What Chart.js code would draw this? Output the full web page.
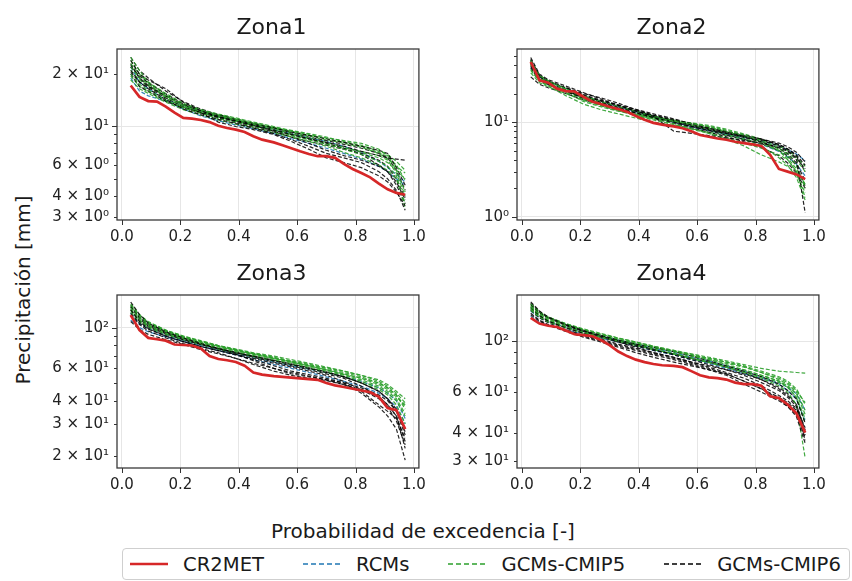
<!DOCTYPE html>
<html>
<head>
<meta charset="utf-8">
<script src="https://cdn.jsdelivr.net/npm/chart.js@4.4.1/dist/chart.umd.min.js"></script>
<style>
  body { margin: 0; background: #fff; width: 852px; height: 581px; overflow: hidden; position: relative;
         font-family: "DejaVu Sans", sans-serif; color: #1a1a1a; }
  canvas { position: absolute; }
  .title { position: absolute; font-size: 22px; line-height: 22px; transform: translateX(-50%); white-space: nowrap; }
  #xlabel { position: absolute; left: 423px; top: 521px; font-size: 20px; line-height: 20px; transform: translateX(-50%); white-space: nowrap; }
  #ylabel { position: absolute; left: 23px; top: 290px; font-size: 20px; line-height: 20px; white-space: nowrap;
            transform: translate(-50%, -50%) rotate(-90deg); }
  #legend { position: absolute; left: 122px; top: 548px; width: 728px; height: 32px; box-sizing: border-box;
            border: 1px solid #cfcfcf; border-radius: 4px; display: flex; align-items: center; padding-left: 7px;
            font-size: 19.6px; white-space: nowrap; overflow: hidden; }
  #legend svg { display: block; flex: none; }
  #legend span { margin-left: 15px; margin-right: 39px; }
</style>
</head>
<body>
<div id="ylabel">Precipitación [mm]</div>
<div id="xlabel">Probabilidad de excedencia [-]</div>
<div id="legend"></div>

<script>
// probabilidad de excedencia
const PROB_OBS = [0.03,0.06,0.09,0.12,0.15,0.18,0.21,0.24,0.27,0.30,0.33,0.36,0.39,0.42,0.45,0.48,
                  0.52,0.55,0.58,0.61,0.64,0.67,0.70,0.73,0.76,0.79,0.82,0.85,0.88,0.91,0.94,0.97];
const PROB_MOD = [0.03,0.06,0.09,0.15,0.21,0.27,0.33,0.39,0.45,0.52,0.58,0.64,0.70,0.76,0.82,0.88,0.91,0.94,0.97];
const X_TICKS = [0, 0.2, 0.4, 0.6, 0.8, 1.0];

// Zona1
const Z1_CR2MET = [17.2,14.8,14.0,13.9,13.0,12.0,11.2,11.1,10.9,10.6,10.1,9.8,9.6,9.3,8.8,8.4,
                   8.1,7.8,7.5,7.2,6.95,6.75,6.75,6.6,6.1,5.7,5.4,5.1,4.7,4.35,4.15,4.05];
const Z1_RCM = [
  [19,16,15,14,12.6,11.5,10.8,10.2,9.7,9.1,8.5,8.0,7.5,7.0,6.5,5.9,5.5,5.0,4.6],
  [22,18,16.5,14.2,13.2,12.2,11.4,10.8,10.3,9.6,9.1,8.6,8.2,7.7,7.1,6.3,5.8,5.3,4.8]
];
const Z1_CMIP5 = [
  [25,21,18,15.5,13.6,12.5,11.8,11.2,10.6,10.0,9.4,9.0,8.6,8.3,8.0,7.4,6.8,5.6,5.0],
  [22,19,17.5,15,13.2,12.2,11.5,10.9,10.3,9.7,9.1,8.6,8.1,7.6,7.1,6.6,6.2,5.6,4.2],
  [20,17.5,16.2,14.2,12.8,11.9,11.1,10.6,10.0,9.5,8.9,8.4,7.9,7.4,6.9,6.3,5.9,5.2,3.6],
  [23,20,18,15.2,13.4,12.4,11.6,11.0,10.4,9.8,9.3,8.8,8.4,8.0,7.6,7.0,6.5,5.9,5.4],
  [18.5,16.5,15.5,13.8,12.5,11.6,10.9,10.3,9.8,9.2,8.7,8.2,7.7,7.1,6.6,6.0,5.6,5.0,3.4],
  [21,18.5,17,14.8,13.1,12.3,11.7,11.1,10.5,9.9,9.4,8.9,8.5,8.1,7.7,7.1,6.7,6.0,4.9],
  [24,20,17.6,14.6,12.9,12.0,11.3,10.8,10.3,9.9,9.5,9.1,8.7,8.2,7.8,7.2,6.9,6.3,5.6],
  [19.5,17,15.8,14.0,12.9,12.1,11.4,10.7,10.1,9.4,8.9,8.4,7.9,7.5,7.2,6.8,6.4,5.4,4.0]
];
const Z1_CMIP6 = [
  [24,20,18.5,16.5,13.8,12.3,11.4,10.7,10.1,9.5,9.0,8.5,8.1,7.7,7.2,6.8,6.6,6.5,6.4],
  [21,18,16.5,14.3,12.6,11.7,11.0,10.4,9.8,9.1,8.4,7.7,7.0,6.6,6.2,5.5,5.0,4.3,3.3],
  [22,19.5,17.8,15.4,13.5,12.0,10.6,10.0,9.6,9.0,8.2,7.4,6.6,6.2,5.8,5.2,4.8,4.2,3.5],
  [20,17,16,14,12.8,12.0,11.3,10.8,10.3,9.8,9.3,8.9,8.5,8.1,7.7,7.3,7.0,5.8,4.6],
  [23,19,17,15,13.3,12.3,11.5,10.9,10.2,9.6,9.0,8.5,8.0,7.5,6.9,6.0,5.5,4.8,3.8],
  [25,21,19,16,13.9,12.6,11.7,11.0,10.4,9.8,9.2,8.7,8.3,7.9,7.5,7.0,6.6,5.6,4.3],
  [20.5,18,16.8,14.6,13.0,12.0,11.2,10.5,9.9,9.3,8.7,8.2,7.8,7.4,7.0,6.4,5.9,5.0,3.9],
  [22.5,19,17.2,15.0,13.4,12.4,11.6,10.9,10.2,9.4,8.7,8.0,7.3,6.8,6.4,5.9,5.5,4.6,3.6]
];
const Z1_YTICKS = [3,4,5,6,7,8,9,10,20];
const Z1_YLABELS = ['3 × 10⁰','4 × 10⁰','','6 × 10⁰','','','','10¹','2 × 10¹'];

// Zona2
const Z2_CR2MET = [43,27.5,26,22.5,21.2,21,18.5,16.5,15.5,14.5,13.7,12.8,11.6,10.6,9.8,9.4,
                   9.0,8.6,8.0,7.3,7.0,6.7,6.5,6.2,6.0,5.8,5.6,4.5,3.2,3.0,2.8,2.5];
const Z2_RCM = [
  [38,28,25,21.5,18,15.8,14.2,13.0,11.5,10.0,9.0,8.2,7.5,6.9,6.3,5.6,5.1,4.6,3.9],
  [42,30,26,22,18.8,16.5,14.5,12.6,11.2,9.9,8.9,8.1,7.4,6.6,5.8,4.9,4.3,3.6,2.7]
];
const Z2_CMIP5 = [
  [45,31,27,22.5,18.5,15.8,13.5,11.8,10.8,10.2,9.6,9.0,8.2,7.3,6.4,5.3,4.5,3.5,2.0],
  [36,27,24,19,15.5,13.5,12.2,11.0,10.0,9.2,8.4,7.6,6.8,6.0,5.3,4.5,4.0,3.0,1.6],
  [40,29,25.5,21,17.5,15.2,13.4,12.0,10.8,9.6,8.6,7.6,6.6,5.6,4.5,3.8,3.4,2.8,1.8],
  [33,26,23.5,20,17,14.8,13.2,12.2,11.4,10.5,9.7,8.9,8.0,7.0,6.1,5.2,4.7,4.0,3.0],
  [42,30,27,22.5,19,16.5,14.6,13.0,11.6,10.3,9.2,8.3,7.5,6.7,5.9,5.0,4.2,3.2,2.2],
  [40,29.5,26,21.5,18,15.5,13.8,12.5,11.3,10.1,9.3,8.6,7.9,7.1,6.2,5.0,4.0,3.0,2.2],
  [35,27,24.5,20.5,16.5,14.5,13.0,12.0,11.2,10.4,9.8,9.2,8.4,7.5,6.6,5.6,5.0,4.3,3.4],
  [43,31,27.5,22,17.5,15.0,13.2,11.7,10.5,9.4,8.5,7.8,7.2,6.5,5.6,4.2,3.5,2.6,1.5]
];
const Z2_CMIP6 = [
  [48,32,28,24,20.5,17.5,15.0,13.0,11.5,8.0,7.6,7.2,6.8,6.4,6.0,5.4,4.9,4.1,1.1],
  [44,30,26.5,23,20,18,15.8,13.5,11.8,10.4,9.3,8.4,7.6,6.9,6.2,5.3,4.6,3.7,2.4],
  [39,28,25,21,18,16,14,12.5,11.2,10.0,9.0,8.2,7.6,7.0,6.4,5.6,5.0,4.2,3.2],
  [46,31,27,23,19.5,17,15.2,13.6,12.2,10.8,9.6,8.6,7.8,7.1,6.5,5.8,5.2,4.5,3.5],
  [30,25,23,20,17.2,15.3,13.8,12.4,11.0,9.7,8.7,7.8,7.0,6.2,5.4,4.4,3.7,2.9,2.0],
  [45,31,27,22.8,19.2,16.6,14.6,13.1,11.8,10.6,9.6,8.8,8.0,7.3,6.6,5.8,5.2,4.4,3.0],
  [41,29,25.5,21.8,18.6,16.2,14.4,12.9,11.6,10.3,9.3,8.5,7.8,7.2,6.6,6.0,5.5,4.8,3.8],
  [37,28,25,21.2,18.4,16.8,15.0,13.2,11.4,10.0,9.0,8.1,7.3,6.6,5.9,5.0,4.4,3.5,2.1]
];
const Z2_YTICKS = [1,2,3,4,5,6,7,8,9,10,20,30,40,50];
const Z2_YLABELS = ['10⁰','','','','','','','','','10¹','','','',''];

// Zona3
const Z3_CR2MET = [117,97,88,86.5,85,81,80.5,80,77,70,67.5,66.5,65,62,57,55.5,
                   54.5,54,53.5,53,52.5,52,50,48.5,47.5,46.5,45.5,44.5,42,36.5,35.5,28];
const Z3_RCM = [
  [120,105,99,91,85,80,76,72,69,65,62,59.5,57,54,51,47,44,40,32],
  [110,100,95,89,84,79,75,71,67,63,60,57,54,51,48,44,41,37,30]
];
const Z3_CMIP5 = [
  [135,118,108,97,90,85,80,76.5,73,70,67,64,61,58,55,51,48,44,39],
  [128,113,104,95,88,83,78.5,75,72,68,65,62,59,56,53,50,47,43,36],
  [125,110,102,93,87,82,77.5,74,70.5,67,64,61,58,55,51,47,44,40,33],
  [132,116,106,96,89,84,79.5,75.5,72,68.5,65.5,63,60.5,58,55,52,49,45,41],
  [122,108,100,92,86,81,76.5,73,69.5,66,63,60,57,54,50,46,43,38,30],
  [130,114,105,96,89,84,79.5,76,72.5,69,66,63,60,57,54,50,47,43,37],
  [124,110,103,94,88,83,79,75,71.5,68,65,62,59,55.5,52,48,45,41,34],
  [133,117,107,97,90,84.5,80,76,72,68.5,65,62,59,56,53,49,46,42,38]
];
const Z3_CMIP6 = [
  [138,118,106,95,88,82,77,73,70,66,63,60,57,54,50,45,41,35,26],
  [118,104,96,88,82,77,73,68,63,58,55,53,51.5,49,45,38,35,32,25],
  [125,108,99,90,84,79,75,71,67,62,58,55.5,53,50,44,37,33,28,19],
  [130,112,102,93,86,81,77,73.5,70,66.5,63.5,60.5,57.5,54,50,45,41,36,27],
  [108,98,92,86,81,76,72,68,64,60,57,54.5,52,49,46,42,38,33,22],
  [132,114,104,94,87,81.5,77,73,69,65,62,59,56,53,48,42,38,33,24],
  [120,106,98,90,84,79,75,71.5,68,64,61,58,55,51,46,41,37,31,23],
  [126,110,101,92,86,81,76.5,72,66,60,56,54,52,50,47,43,40,35,28]
];
const Z3_YTICKS = [20,30,40,50,60,70,80,90,100];
const Z3_YLABELS = ['2 × 10¹','3 × 10¹','4 × 10¹','','6 × 10¹','','','','10²'];

// Zona4
const Z4_CR2MET = [126,119,116.5,115,111,107,106,105,101,96,90,86,83,81,79.5,78.5,
                   78,77,74,71,69.5,69,68,66,65,65,64,57.5,56.5,53,48.5,40];
const Z4_RCM = [
  [135,126,121,115,110,105,101,97,93,89,85,82,78,74,70,66,63,59,50],
  [128,121,117,112,107,103,99,95,91,87,83,80,76,72,69,65,61,56,45]
];
const Z4_CMIP5 = [
  [145,134,127,119,113,108,103,99,95,91,88,85,82,79,76,74,73.5,73,72.5],
  [140,131,125,118,112,107,102,98,94,90,86,83,79,75,71,67,64,59,48],
  [138,128,122,115,109,104,100,96,92,88,84,81,77,73,69,64,60,53,31],
  [142,132,126,118,112,107,103,99,95,91,87.5,84,81,78,74,70,67,62,53],
  [136,127,121,114,108,104,100,96,92,88,84,80.5,77,73.5,70,66,63,57,46],
  [144,133,127,119,112,106,101,97,93.5,90,86.5,83,80,77,73,68,65,60,50],
  [139,129,123,116,110,105,101,97.5,94,90.5,87,84,81,77.5,73,69,66,61,54],
  [141,131,124,116,110,105,100,96,92,88,84.5,81,78,75,71,67,63,57,44]
];
const Z4_CMIP6 = [
  [148,135,127,118,111,105,100,96,92,87,83,79,75,71,66,61,57,52,37],
  [132,123,118,111,105,100,95,91,87,83,79,75,71,65,60,55,52,47,36],
  [140,129,122,114,108,102,97,93,89,85,81,77,73,69,64,58,55,51,42],
  [144,133,126,118,111,106,101,97,94,90,86,82,78,74,70,65,61,56,44],
  [130,122,117,110,104,99,94,89,85,81,78,75,72,67,62,56,52,48,38],
  [146,134,126,117,110,104,99,95,91,88,84,81,77,73,68,62,58,53,40],
  [136,126,120,112,106,101,96,92,88,84,80,76,72,67,62,57,54,50,39],
  [138,128,122,115,109,104,99,94,89,85,81,78,75,72,68,63,59,53,41]
];
const Z4_YTICKS = [30,40,50,60,70,80,90,100];
const Z4_YLABELS = ['3 × 10¹','4 × 10¹','','6 × 10¹','','','','10²'];

const SERIES = ['CR2MET', 'RCMs', 'GCMs-CMIP5', 'GCMs-CMIP6'];
const COLORS = ['#d62728', '#1f77b4', '#2ca02c', '#000000'];

// layout of each subplot (plot area in page pixels) and axis limits
const X_LIM = [-0.017, 1.017];
const zones = [
  { name: 'Zona1', obs: Z1_CR2MET, rcm: Z1_RCM, c5: Z1_CMIP5, c6: Z1_CMIP6, yt: Z1_YTICKS, yl: Z1_YLABELS, ylim: [2.9, 27.9],
    area: { left: 117, top: 42, right: 426, bottom: 220 } },
  { name: 'Zona2', obs: Z2_CR2MET, rcm: Z2_RCM, c5: Z2_CMIP5, c6: Z2_CMIP6, yt: Z2_YTICKS, yl: Z2_YLABELS, ylim: [0.925, 59],
    area: { left: 517, top: 42, right: 826, bottom: 220 } },
  { name: 'Zona3', obs: Z3_CR2MET, rcm: Z3_RCM, c5: Z3_CMIP5, c6: Z3_CMIP6, yt: Z3_YTICKS, yl: Z3_YLABELS, ylim: [17.2, 150.7],
    area: { left: 117, top: 288, right: 426, bottom: 468 } },
  { name: 'Zona4', obs: Z4_CR2MET, rcm: Z4_RCM, c5: Z4_CMIP5, c6: Z4_CMIP6, yt: Z4_YTICKS, yl: Z4_YLABELS, ylim: [28.1, 158.4],
    area: { left: 517, top: 288, right: 826, bottom: 468 } }
];

const AX_W = 117, AX_H = 34, PAD_T = 10, PAD_R = 8;
const FONT = "'DejaVu Sans', sans-serif";
const isMajor = v => Math.abs(Math.log10(v) - Math.round(Math.log10(v))) < 1e-9;

// marco + marcas de los ejes
const framePlugin = {
  id: 'frame',
  afterDraw(chart) {
    const { ctx, chartArea: a, scales } = chart;
    ctx.save();
    ctx.strokeStyle = '#333';
    ctx.lineWidth = 1;
    scales.x.ticks.forEach(t => {
      const px = Math.round(scales.x.getPixelForValue(t.value)) + 0.5;
      ctx.beginPath(); ctx.moveTo(px, a.bottom); ctx.lineTo(px, a.bottom + 5); ctx.stroke();
    });
    scales.y.ticks.forEach(t => {
      const py = Math.round(scales.y.getPixelForValue(t.value)) + 0.5;
      const len = isMajor(t.value) ? 5 : 3;
      ctx.beginPath(); ctx.moveTo(a.left - len, py); ctx.lineTo(a.left, py); ctx.stroke();
    });
    ctx.lineWidth = 1.3;
    ctx.strokeStyle = '#3a3a3a';
    ctx.strokeRect(a.left, a.top, a.right - a.left, a.bottom - a.top);
    ctx.restore();
  }
};

function line(xs, ys, color, width, dash) {
  return {
    data: xs.map((x, i) => ({ x: x, y: ys[i] })),
    borderColor: color, borderWidth: width, borderDash: dash,
    pointRadius: 0, fill: false, tension: 0
  };
}

zones.forEach(z => {
  const a = z.area;
  const cv = document.createElement('canvas');
  const w = a.right - a.left + AX_W + PAD_R;
  const h = a.bottom - a.top + PAD_T + AX_H;
  cv.width = w; cv.height = h;
  cv.style.left = (a.left - AX_W) + 'px';
  cv.style.top = (a.top - PAD_T) + 'px';
  document.body.appendChild(cv);

  const t = document.createElement('div');
  t.className = 'title';
  t.textContent = z.name;
  t.style.left = ((a.left + a.right) / 2) + 'px';
  t.style.top = (a.top - 26.5) + 'px';
  document.body.appendChild(t);

  // la serie observada va primero para quedar encima
  const datasets = [line(PROB_OBS, z.obs, COLORS[0], 2.7, [])];
  for (let i = 0; i < z.c6.length; i++) {
    datasets.push(line(PROB_MOD, z.c6[i], 'rgba(0,0,0,0.85)', 1.2, [4, 2]));
    datasets.push(line(PROB_MOD, z.c5[i], 'rgba(44,160,44,0.9)', 1.2, [4, 2]));
  }
  z.rcm.forEach(r => datasets.push(line(PROB_MOD, r, 'rgba(31,119,180,0.9)', 1.2, [4, 2])));

  new Chart(cv, {
    type: 'line',
    data: { datasets: datasets },
    options: {
      responsive: false,
      animation: false,
      events: [],
      layout: { padding: { top: PAD_T, right: PAD_R, left: 0, bottom: 0 } },
      plugins: { legend: { display: false }, tooltip: { enabled: false }, title: { display: false } },
      scales: {
        x: {
          type: 'linear', min: X_LIM[0], max: X_LIM[1],
          afterBuildTicks: s => { s.ticks = X_TICKS.map(v => ({ value: v })); },
          afterFit: s => { s.height = AX_H; },
          grid: { color: '#e6e6e6', lineWidth: 1, drawTicks: false },
          border: { display: false },
          ticks: { font: { family: FONT, size: 15 }, color: '#222', padding: 8, maxRotation: 0, autoSkip: false,
                   callback: v => Number(v).toFixed(1) }
        },
        y: {
          type: 'logarithmic', min: z.ylim[0], max: z.ylim[1],
          afterBuildTicks: s => { s.ticks = z.yt.map(v => ({ value: v })); },
          afterFit: s => { s.width = AX_W; },
          grid: { color: c => (c.tick && isMajor(c.tick.value)) ? '#e6e6e6' : 'rgba(0,0,0,0)', lineWidth: 1, drawTicks: false },
          border: { display: false },
          ticks: { font: { family: FONT, size: 15 }, color: '#222', padding: 8, autoSkip: false,
                   callback: v => { const i = z.yt.indexOf(v); return i >= 0 ? z.yl[i] : ''; } }
        }
      }
    },
    plugins: [framePlugin]
  });
});

// leyenda
const legend = document.getElementById('legend');
SERIES.forEach((name, i) => {
  const dash = i === 0 ? '' : ' stroke-dasharray="5 3"';
  const sw = i === 0 ? 2.7 : 1.6;
  legend.insertAdjacentHTML('beforeend',
    '<svg width="38" height="10"><line x1="0" y1="5" x2="38" y2="5" stroke="' + COLORS[i] +
    '" stroke-width="' + sw + '"' + dash + '/></svg><span>' + name + '</span>');
});
</script>
</body>
</html>
